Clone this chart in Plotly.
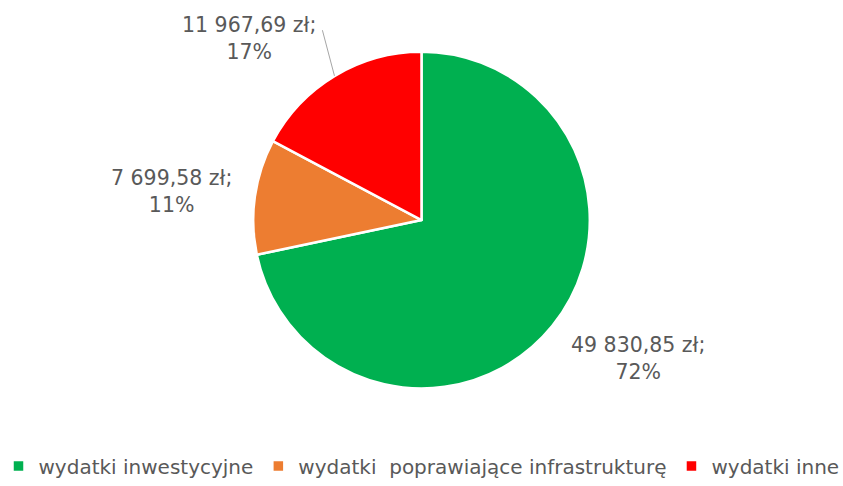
import math
import plotly.graph_objects as go

labels = ["wydatki inwestycyjne", "wydatki  poprawiające infrastrukturę", "wydatki inne"]
values = [49830.85, 7699.58, 11967.69]
colors = ["#00B050", "#ED7D31", "#FF0000"]

# --- style / layout constants ---
W, H = 843, 486
PIE_TOP, PIE_BOTTOM = 52, 390          # px
LABEL_FONT = dict(family="DejaVu Sans, sans-serif", size=20.5, color="#595959")
LEGEND_FONT = dict(family="DejaVu Sans, sans-serif", size=20, color="#595959")
LABEL_DIST = [1.52, 1.49, 1.485]       # label distance in radii
LABEL_ANGLE_SHIFT = [-6.4, -1.6, -12.3]  # degrees, nudges like Excel's label placement
LEADER = [False, False, True]

def fmt_pln(v):
    s = f"{v:,.2f}".replace(",", " ").replace(".", ",")
    return s + " zł;"

total = sum(values)
r = min(W, PIE_BOTTOM - PIE_TOP) / 2
cx, cy = W / 2, (PIE_TOP + PIE_BOTTOM) / 2

def px_to_paper(x, y):
    return x / W, 1 - y / H

fig = go.Figure(go.Pie(
    labels=labels,
    values=values,
    marker=dict(colors=colors, line=dict(color="white", width=2.5)),
    sort=False,
    direction="clockwise",
    rotation=0,
    textinfo="none",
    domain=dict(x=[0, 1], y=[1 - PIE_BOTTOM / H, 1 - PIE_TOP / H]),
))

annotations = []
shapes = []
cum = 0.0
for i, v in enumerate(values):
    mid = (cum + v / 2) / total * 360
    cum += v
    ang = math.radians(mid + LABEL_ANGLE_SHIFT[i])
    lx = cx + LABEL_DIST[i] * r * math.sin(ang)
    ly = cy - LABEL_DIST[i] * r * math.cos(ang)
    pct = round(v / total * 100)
    ax, ay = px_to_paper(lx, ly)
    annotations.append(dict(
        x=ax, y=ay, xref="paper", yref="paper",
        text=f"{fmt_pln(v)}<br>{pct}%",
        showarrow=False, align="center", xanchor="center", yanchor="middle",
        font=LABEL_FONT,
    ))
    if LEADER[i]:
        m = math.radians(mid)
        x0 = cx + r * math.sin(m)
        y0 = cy - r * math.cos(m)
        x1, y1 = lx + 73, ly - 8
        p0 = px_to_paper(x0, y0)
        p1 = px_to_paper(x1, y1)
        shapes.append(dict(type="line", xref="paper", yref="paper",
                           x0=p0[0], y0=p0[1], x1=p1[0], y1=p1[1],
                           line=dict(color="#A6A6A6", width=1)))

fig.update_layout(
    width=W, height=H,
    margin=dict(l=0, r=0, t=0, b=0),
    paper_bgcolor="white",
    plot_bgcolor="white",
    showlegend=True,
    annotations=annotations,
    shapes=shapes,
    legend=dict(
        orientation="h", x=0.5, xanchor="center", y=1 - 468 / H, yanchor="middle",
        font=LEGEND_FONT,
        itemwidth=30,
    ),
)

fig.write_html("out.html",
               config={"displayModeBar": False},
               post_script="document.body.style.margin='0';document.body.style.overflow='hidden';")
